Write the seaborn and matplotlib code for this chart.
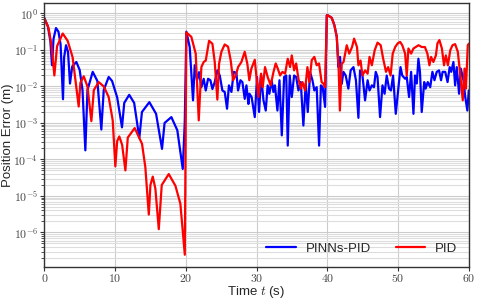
import numpy as np
import pandas as pd
import matplotlib
matplotlib.use("Agg")
import matplotlib.pyplot as plt
from matplotlib.ticker import FuncFormatter, LogLocator, MultipleLocator
import seaborn as sns

# ---- data: time (s) and log10 of position error (m) ----
pinn_t = [0, 0.5, 0.85, 1.09, 1.3, 1.65, 2.0, 2.3, 2.64, 2.8, 3.07, 3.35, 3.63, 3.95, 4.53, 5.0, 5.4, 5.8,
          6.1, 6.84, 7.5, 8.06, 8.4, 9.1, 9.58, 10.3, 10.98, 11.3, 12.0, 12.7, 13.43, 13.8, 14.85, 15.8,
          16.64, 17.0, 17.96, 18.8, 19.57, 19.85,
          20.08, 20.55, 21.02, 21.26, 21.59, 21.87, 22.2, 22.53, 22.82, 23.15, 23.48, 23.76, 24.09, 24.46,
          24.8, 25.17, 25.5, 25.83, 26.1, 26.45, 26.78, 27.15, 27.39, 27.72, 28.0, 28.33, 28.57, 28.85,
          29.0, 29.3, 29.75, 30.07, 30.36, 30.64, 30.98, 31.3, 31.57, 31.81, 32.14, 32.38, 32.6, 32.95,
          33.24, 33.57, 33.9, 34.2, 34.41, 34.69, 34.98, 35.31, 35.6, 35.92, 36.25, 36.62, 36.95, 37.24,
          37.57, 37.9, 38.17, 38.5, 38.84, 39.1, 39.35, 39.69, 39.93,
          40.06, 40.63, 41.0, 41.34, 41.57, 41.8, 42.04, 42.28, 42.6, 42.98, 43.3, 43.7, 44.05, 44.4,
          44.63, 44.97, 45.34, 45.7, 45.97, 46.3, 46.6, 46.85, 47.1, 47.46, 47.8, 48.1, 48.4, 48.73,
          49.0, 49.3, 49.68, 50.08, 50.35, 50.6, 51.0, 51.23, 51.56, 51.85, 52.18, 52.4, 52.65, 52.88,
          53.1, 53.35, 53.7, 53.9, 54.2, 54.55, 54.86, 55.15, 55.47, 55.8, 56.08, 56.3, 56.67, 57.0,
          57.3, 57.52, 57.83, 58.07, 58.3, 58.63, 58.87, 59.25, 59.5, 59.8, 60.0]
pinn_log = [-0.13, -0.35, -0.75, -1.42, -0.70, -0.40, -0.50, -0.85, -2.35, -1.20, -0.87, -1.05, -1.92, -1.45,
            -1.33, -1.55, -2.10, -3.75, -2.10, -1.60, -1.85, -3.18, -2.10, -1.74, -1.85, -2.30, -3.12, -2.45,
            -2.23, -2.45, -3.41, -2.70, -2.43, -2.75, -3.71, -3.00, -2.84, -3.20, -4.26, -3.00,
            -0.50, -0.92, -2.38, -1.42, -1.83, -1.61, -2.02, -1.79, -2.11, -1.79, -1.83, -2.07, -1.88, -1.56,
            -1.70, -2.11, -2.15, -2.61, -1.97, -2.15, -1.60, -1.63, -2.11, -1.83, -1.88, -2.34, -1.97, -2.48,
            -2.20, -2.29, -2.84, -1.74, -2.70, -1.70, -2.38, -2.66, -1.97, -2.20, -1.83, -2.15, -1.97, -2.66,
            -1.83, -3.34, -1.74, -1.70, -3.62, -1.70, -2.29, -1.70, -1.74, -2.11, -1.88, -3.07, -1.92, -2.70,
            -1.61, -1.83, -2.11, -2.02, -3.62, -1.97, -2.02, -2.56, -0.05,
            -0.05, -0.12, -0.32, -0.64, -1.47, -1.19, -1.93, -1.60, -1.70, -2.06, -1.56, -1.47, -1.83, -2.86,
            -1.56, -1.70, -2.38, -1.83, -2.11, -1.97, -2.02, -1.60, -1.74, -2.84, -1.97, -2.20, -1.70, -2.06,
            -2.11, -1.70, -2.75, -1.97, -1.47, -1.70, -1.79, -1.74, -2.29, -1.60, -2.75, -1.70, -1.92, -1.24,
            -1.60, -2.70, -1.88, -2.06, -1.88, -2.02, -1.60, -1.83, -1.60, -1.56, -1.83, -1.60, -1.60, -1.88,
            -1.47, -1.60, -1.33, -1.97, -1.47, -2.20, -1.51, -1.83, -2.29, -2.66, -2.11]

pid_t = [0, 0.6, 1.0, 1.42, 1.8, 2.6, 3.3, 4.0, 4.86, 5.1, 5.57, 6.1, 6.65, 7.0, 7.69, 8.4, 9.1, 9.67,
         10.04, 10.3, 10.6, 11.0, 11.46, 11.8, 12.78, 13.81, 14.28, 14.77, 15.0, 15.33, 15.7, 16.18, 16.6,
         17.59, 18.53, 19.23, 19.86,
         20.08, 20.78, 21.4, 21.83, 22.2, 22.53, 22.82, 23.29, 23.76, 24.09, 24.46, 24.7, 25.03, 25.5,
         25.97, 26.35, 26.68, 27.06, 27.39, 27.86, 28.33, 28.7, 28.98, 29.27, 29.75, 30.07, 30.26, 30.64,
         30.87, 31.2, 31.57, 32.0, 32.4, 32.71, 33.0, 33.33, 33.66, 34.04, 34.41, 34.74, 34.98, 35.31,
         35.6, 35.92, 36.25, 36.49, 36.86, 37.19, 37.47, 37.8, 38.17, 38.5, 38.83, 39.2, 39.44, 39.69, 39.93,
         40.06, 40.63, 41.0, 41.34, 41.6, 41.78, 42.04, 42.3, 42.75, 43.1, 43.5, 43.79, 44.2, 44.4, 44.7,
         44.97, 45.34, 45.7, 45.97, 46.3, 46.7, 47.1, 47.55, 47.9, 48.3, 48.6, 48.95, 49.25, 49.6, 49.95,
         50.3, 50.6, 51.0, 51.23, 51.47, 51.85, 52.18, 52.5, 52.9, 53.35, 53.8, 54.15, 54.44, 54.67, 55.0,
         55.35, 55.57, 55.85, 56.2, 56.5, 56.76, 57.05, 57.38, 57.7, 58.07, 58.45, 58.78, 59.15, 59.4,
         59.6, 59.86, 60.0]
pid_log = [-0.13, -0.40, -0.85, -1.70, -0.90, -0.55, -0.75, -1.20, -2.55, -1.90, -1.72, -2.00, -2.95, -2.10,
           -1.88, -2.00, -2.29, -2.93, -4.19, -3.50, -3.37, -3.60, -4.30, -3.40, -3.14, -3.57, -4.21, -5.51,
           -4.70, -4.47, -4.80, -5.91, -4.70, -4.40, -4.72, -5.21, -6.61,
           -0.52, -0.64, -1.10, -2.93, -1.47, -1.33, -1.29, -0.75, -0.83, -1.33, -2.36, -1.38, -1.05, -0.85,
           -0.91, -1.29, -1.83, -1.70, -1.47, -1.33, -1.05, -1.38, -1.83, -1.51, -1.27, -1.93, -2.29, -1.65,
           -2.02, -1.47, -1.74, -1.97, -1.60, -1.37, -1.51, -1.70, -1.60, -1.65, -1.24, -1.47, -1.15, -1.56,
           -1.37, -1.79, -2.06, -1.88, -2.11, -1.47, -1.88, -1.28, -1.19, -1.42, -1.37, -1.88, -1.92, -2.02, -0.05,
           -0.05, -0.12, -0.32, -0.64, -1.47, -2.66, -1.38, -1.33, -0.87, -1.10, -0.92, -0.69, -0.92, -1.42, -1.29,
           -1.70, -1.56, -1.65, -1.19, -1.42, -1.01, -0.80, -0.87, -1.24, -1.60, -1.47, -1.70, -1.10, -0.92, -0.82,
           -0.78, -0.87, -1.10, -1.70, -0.96, -1.10, -0.96, -0.92, -0.87, -0.92, -0.92, -1.10, -1.42, -1.19, -1.33,
           -1.15, -0.82, -0.73, -0.96, -1.42, -1.15, -1.42, -1.01, -0.87, -0.84, -1.05, -1.65, -2.38, -1.51,
           -2.06, -0.87, -0.83]

series_names = ["PINNs-PID", "PID"]
series_colors = ["blue", "red"]

df = pd.concat([
    pd.DataFrame({"t": pinn_t, "err": np.power(10.0, pinn_log), "method": series_names[0]}),
    pd.DataFrame({"t": pid_t, "err": np.power(10.0, pid_log), "method": series_names[1]}),
], ignore_index=True)

sns.set_style("ticks")
plt.rcParams["font.family"] = ["Liberation Sans", "DejaVu Sans"]
plt.rcParams["mathtext.fontset"] = "cm"

fig = plt.figure(figsize=(4.78, 3.0), dpi=100)
ax = fig.add_axes([0.0927, 0.111, 0.888, 0.878])

sns.lineplot(data=df, x="t", y="err", hue="method", palette=series_colors,
             hue_order=series_names, sort=False, estimator=None, lw=1.6, ax=ax)

ax.set_yscale("log")
ax.set_xlim(0, 60)
ax.xaxis.set_major_locator(MultipleLocator(10))
ax.xaxis.set_major_formatter(FuncFormatter(lambda v, p: r"$%d$" % int(round(v))))
ax.yaxis.set_major_locator(LogLocator(base=10, numticks=20))
ax.yaxis.set_minor_locator(LogLocator(base=10, subs=np.arange(2, 10), numticks=20))
ax.yaxis.set_major_formatter(FuncFormatter(lambda v, p: r"$10^{%d}$" % int(round(np.log10(v)))))

ax.grid(True, which="major", color="#cccccc", lw=0.8)
ax.grid(True, which="minor", axis="y", color="#dddddd", lw=0.8)
ax.set_axisbelow(True)
for s in ax.spines.values():
    s.set_color("#333333")
    s.set_linewidth(1.0)
ax.tick_params(axis="both", which="major", labelsize=8.5, length=3, pad=1.5, color="#333333",
               labelcolor="#444444")
ax.tick_params(axis="y", which="minor", length=2, color="#333333")

ax.set_xlabel(r"Time $t$ (s)", fontsize=9.5)
ax.set_ylabel("Position Error (m)", fontsize=9.5)
ax.xaxis.set_label_coords(0.5, -0.066)
ax.yaxis.set_label_coords(-0.072, 0.5)

ax.legend(loc="lower right", ncol=2, frameon=False, fontsize=9.5, handlelength=2.2,
          handletextpad=0.75, columnspacing=1.9, bbox_to_anchor=(1.0, 0.0))

fig.savefig("out.png", dpi=100)
